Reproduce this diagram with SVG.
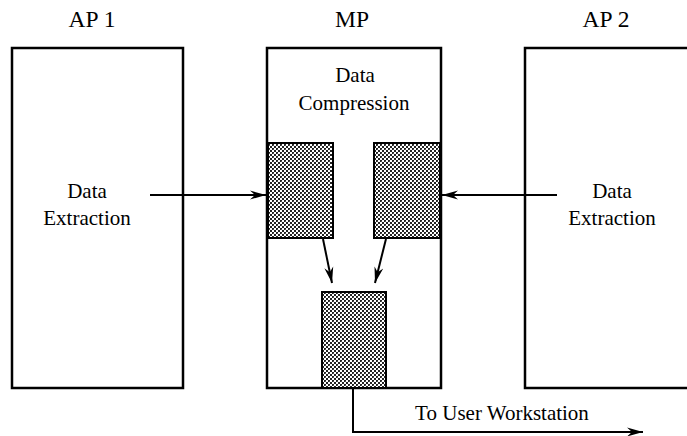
<svg xmlns="http://www.w3.org/2000/svg" width="687" height="436" viewBox="0 0 687 436">
  <style>
    .box { fill: #fff; stroke: #000; stroke-width: 2.5; }
    .shade { fill: url(#hatch); stroke: #000; stroke-width: 2; }
    .title { font-family: "Liberation Serif", serif; font-size: 23.5px; text-anchor: middle; fill: #000; }
    .lbl { font-family: "Liberation Serif", serif; font-size: 21px; text-anchor: middle; fill: #000; }
    .conn { fill: none; stroke: #000; stroke-width: 2; marker-end: url(#arr); }
  </style>
  <defs>
    <pattern id="hatch" width="4" height="4" patternUnits="userSpaceOnUse">
      <rect width="4" height="4" fill="#fff"/>
      <rect x="0" y="0" width="2" height="2" fill="#222"/>
      <rect x="2" y="2" width="2" height="2" fill="#222"/>
      <rect x="1" y="1" width="1" height="1" fill="#555"/>
    </pattern>
    <marker id="arr" markerWidth="17" markerHeight="10" refX="16" refY="5" orient="auto" markerUnits="userSpaceOnUse">
      <path d="M0,0.5 L16,5 L0,9.5 L5,5 z" fill="#000"/>
    </marker>
  </defs>

  <g id="ap1">
    <text class="title" x="92" y="27">AP 1</text>
    <rect class="box" x="12" y="48" width="171" height="340"/>
    <text class="lbl" x="87" y="198">Data</text>
    <text class="lbl" x="87" y="225">Extraction</text>
  </g>

  <g id="mp">
    <text class="title" x="352" y="27">MP</text>
    <rect class="box" x="267" y="48" width="174" height="340"/>
    <text class="lbl" x="355" y="82">Data</text>
    <text class="lbl" x="354" y="110">Compression</text>
  </g>

  <g id="buf-left">
    <rect class="shade" x="268" y="143" width="65" height="95"/>
  </g>
  <g id="buf-right">
    <rect class="shade" x="374" y="143" width="66" height="95"/>
  </g>
  <g id="buf-out">
    <rect class="shade" x="322" y="292" width="64" height="96"/>
  </g>

  <g id="ap2">
    <text class="title" x="606" y="27">AP 2</text>
    <rect class="box" x="525" y="48" width="180" height="340"/>
    <text class="lbl" x="612" y="198">Data</text>
    <text class="lbl" x="612" y="225">Extraction</text>
  </g>

  <g id="connectors">
    <line class="conn" x1="150" y1="195" x2="266" y2="195"/>
    <line class="conn" x1="557" y1="195" x2="442" y2="195"/>
    <line class="conn" x1="323" y1="239" x2="332" y2="283"/>
    <line class="conn" x1="386" y1="239" x2="375" y2="283"/>
    <polyline class="conn" points="353,388 353,432 643,432"/>
    <text class="lbl" x="502" y="420">To User Workstation</text>
  </g>
</svg>
